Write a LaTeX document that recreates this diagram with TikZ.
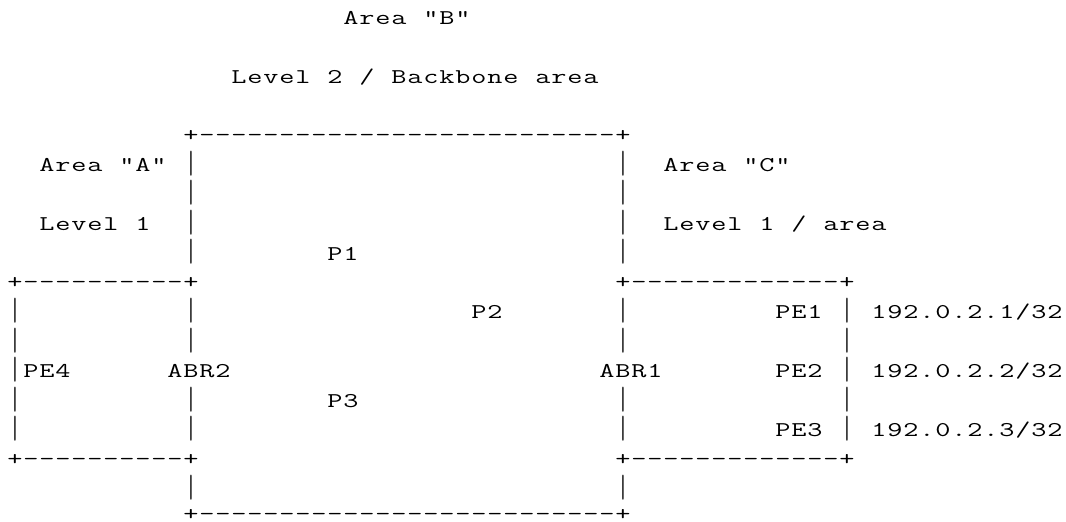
\documentclass[tikz,border=0pt]{standalone}
\usepackage{fontspec}
\usepackage{graphicx}
\tikzset{ch/.style={inner sep=0pt, outer sep=0pt, anchor=base,
  font=\ttfamily\fontsize{21pt}{24pt}\selectfont, text=black},
  bar/.style={ch, anchor=south}}
\makeatletter
\newcount\asc@col
\def\asc@bar{|}
\def\asc@plus{+}
\def\asc@minus{-}
\def\asclift{0}
% \ascw{col}{row}{word}: sets each character of the word in its own cell of a 16pt x 29.44pt grid
\newcommand\ascw[3]{%
  \global\asc@col=#1\relax
  \def\asc@row{#2}%
  \@tfor\asc@t:=#3\do{%
    \def\asc@up{0}%
    \ifx\asc@t\asc@plus \def\asc@up{1}\fi
    \ifx\asc@t\asc@minus \def\asc@up{1}\fi
    \ifx\asc@t\asc@bar
      \node[bar] (c-\the\asc@col-\asc@row) at ({(15+16*\the\asc@col)*1pt},{-(29+29.44*\asc@row)*1pt}) {\resizebox*{\width}{25pt}{|}};%
    \else
      \node[ch] (c-\the\asc@col-\asc@row) at ({(15+16*\the\asc@col)*1pt},{-(24.5+29.44*\asc@row-\asc@up-\asclift)*1pt}) {\scalebox{1.4}[1]{\asc@t}};%
    \fi
    \global\advance\asc@col by 1\relax}%
}
\makeatother
\begin{document}
\begin{tikzpicture}
\useasboundingbox (0,0) rectangle (1066pt,-522pt);
% row 0
\ascw{21}{0}{Area}\ascw{26}{0}{"B"}
% row 2
\ascw{14}{2}{Level}\ascw{20}{2}{2}\ascw{22}{2}{/}\ascw{24}{2}{Backbone}\ascw{33}{2}{area}
% row 4
\ascw{11}{4}{+--------------------------+}
% row 5
\ascw{2}{5}{Area}\ascw{7}{5}{"A"}\ascw{11}{5}{|}\ascw{38}{5}{|}\ascw{41}{5}{Area}\ascw{46}{5}{"C"}
% row 6
\ascw{11}{6}{|}\ascw{38}{6}{|}
% row 7
\ascw{2}{7}{Level}\ascw{8}{7}{1}\ascw{11}{7}{|}\ascw{38}{7}{|}
\ascw{41}{7}{Level}\ascw{47}{7}{1}\ascw{49}{7}{/}\ascw{51}{7}{area}
% row 8
\ascw{11}{8}{|}\ascw{20}{8}{P1}\ascw{38}{8}{|}
% row 9
\ascw{0}{9}{+----------+}\ascw{38}{9}{+-------------+}
% row 10
\ascw{0}{10}{|}\ascw{11}{10}{|}\ascw{29}{10}{P2}\ascw{38}{10}{|}\ascw{48}{10}{PE1}\ascw{52}{10}{|}\ascw{54}{10}{192.0.2.1/32}
% row 11
\ascw{0}{11}{|}\ascw{11}{11}{|}\ascw{38}{11}{|}\ascw{52}{11}{|}
% row 12
\ascw{0}{12}{|}\ascw{1}{12}{PE4}\ascw{10}{12}{ABR2}\ascw{37}{12}{ABR1}\ascw{48}{12}{PE2}\ascw{52}{12}{|}\ascw{54}{12}{192.0.2.2/32}
% row 13
\ascw{0}{13}{|}\ascw{11}{13}{|}\ascw{20}{13}{P3}\ascw{38}{13}{|}\ascw{52}{13}{|}
% row 14
\ascw{0}{14}{|}\ascw{11}{14}{|}\ascw{38}{14}{|}\ascw{48}{14}{PE3}\ascw{52}{14}{|}\ascw{54}{14}{192.0.2.3/32}
% row 15
\ascw{0}{15}{+----------+}\ascw{38}{15}{+-------------+}
% row 16
\ascw{11}{16}{|}\ascw{38}{16}{|}
% row 17 (lifted a little so the line stays inside the frame)
\def\asclift{3}
\ascw{11}{17}{+--------------------------+}
\end{tikzpicture}
\end{document}
